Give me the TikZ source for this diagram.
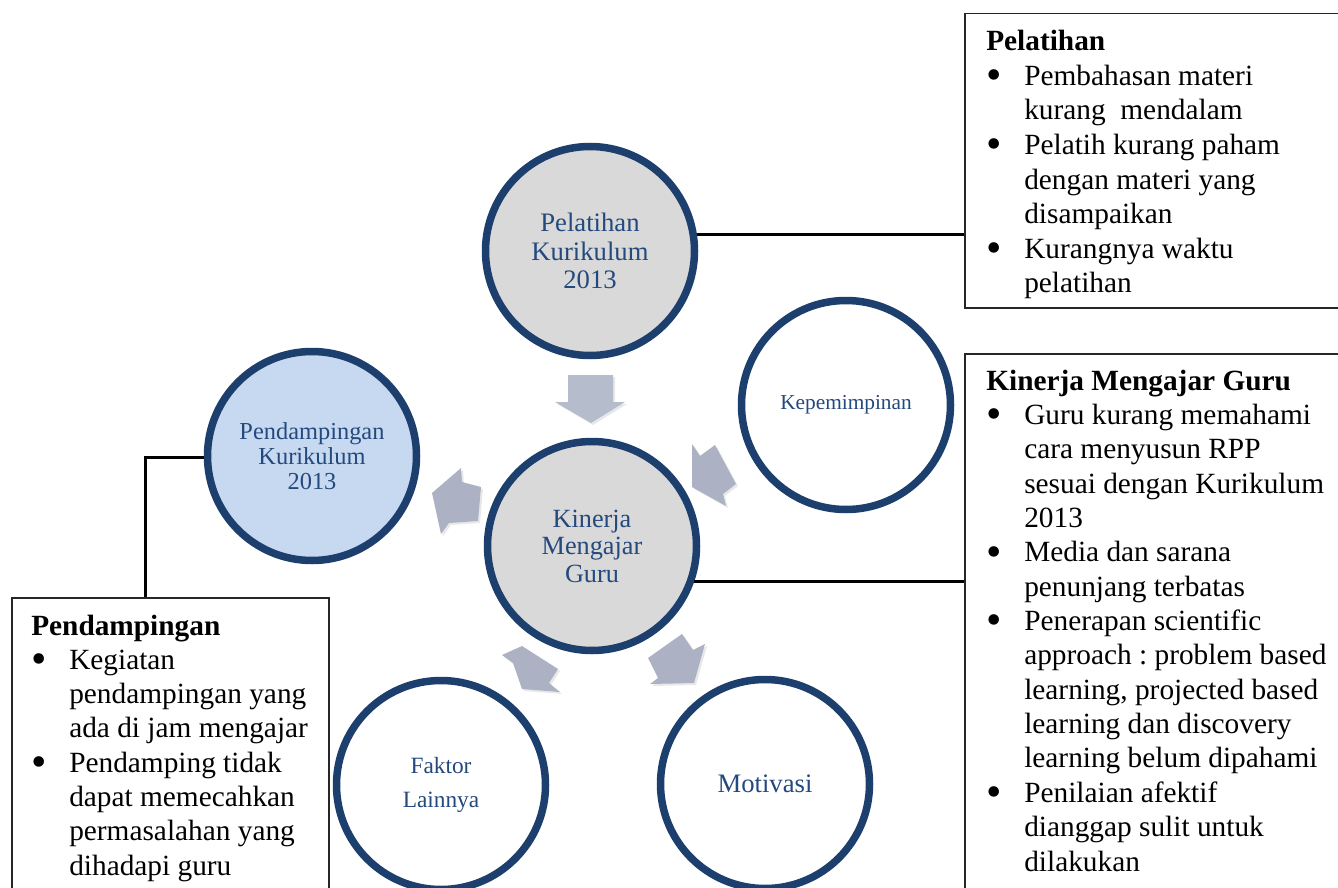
\documentclass[tikz,border=0pt]{standalone}
\usepackage{fontspec}
\setmainfont{Liberation Serif}
\usetikzlibrary{shadows}
\frenchspacing
\newdimen\pxu \pxu=0.75pt
\definecolor{ringc}{HTML}{1D3F6E}
\definecolor{txtc}{HTML}{24497D}
\definecolor{greyf}{HTML}{D9D9D9}
\definecolor{bluef}{HTML}{C6D9F1}
\definecolor{arrc}{HTML}{ACB2C3}
\definecolor{arrtop}{HTML}{B5BCCC}
\newcommand\bigdot{\raisebox{-3.3pt}{\scalebox{1.5}{\textbullet}}}
\tikzset{
 ring/.style={circle, draw=ringc, line width=7.5\pxu, minimum size=209\pxu, inner sep=0pt, text=txtc, align=center},
 blk/.style={fill=arrc, draw=none, drop shadow={opacity=0.18, shadow xshift=1.5pt, shadow yshift=-1.5pt}},
 panel/.style={draw=black!85, line width=1.5\pxu, anchor=north west, inner sep=0pt},
 link/.style={draw=black, line width=3\pxu},
 hdl/.style={anchor=base west, inner sep=0pt, font=\fontsize{22}{24}\selectfont\bfseries},
 bul/.style={anchor=base west, inner sep=0pt, xshift=0\pxu, font=\fontsize{22}{24}\selectfont, execute at begin node={\makebox[38\pxu][l]{\bigdot}}},
 cnt/.style={anchor=base west, inner sep=0pt, xshift=38\pxu, font=\fontsize{22}{24}\selectfont},
}
\begin{document}
\begin{tikzpicture}[x=0.75pt, y=-0.75pt]
\useasboundingbox (0,0) rectangle (1338,888);
\clip (0,0) rectangle (1338,888);
% block arrows
\fill[blk, fill=arrtop] (568,375) -- (613,375) -- (613,402) -- (625,402) -- (591,423) -- (555,402) -- (568,402) -- cycle;
\fill[blk] (692,444) -- (700,456) -- (715,445) -- (736,484) -- (723,494) -- (726,506) -- (692,487) -- cycle;
\fill[blk] (461,468) -- (462,482) -- (481,487) -- (478,521) -- (449,523) -- (441,534) -- (432,493) -- cycle;
\fill[blk] (522,646) -- (558,669) -- (549,683) -- (560,692) -- (522,689) -- (513,663) -- (502,655) -- cycle;
\fill[blk] (682,634) -- (693,650) -- (705,644) -- (694,683) -- (650,684) -- (658,678) -- (648,658) -- cycle;
% circles
\node[ring, fill=greyf, font=\fontsize{20}{21.2}\selectfont] (ptop) at (590,251) {Pelatihan\\Kurikulum\\2013};
\node[ring, fill=greyf, font=\fontsize{19.7}{20.6}\selectfont] (kin) at (592,546) {Kinerja\\Mengajar\\Guru};
\node[ring, fill=white, font=\fontsize{16}{18}\selectfont] (kep) at (846,405) {Kepemimpinan};
\node[ring, fill=bluef, font=\fontsize{18.3}{18.75}\selectfont] (pend) at (312,456) {Pendampingan\\Kurikulum\\2013};
\node[ring, fill=white, font=\fontsize{17.5}{25.5}\selectfont] (fak) at (441,785) {Faktor\\Lainnya};
\node[ring, fill=white, font=\fontsize{20}{20}\selectfont] (mot) at (765,784) {Motivasi};
% panels
\node[panel, minimum width=400\pxu, minimum height=294\pxu] (pelbox) at (964,13) {};
\node[panel, minimum width=400\pxu, minimum height=560\pxu] (kinbox) at (964,353) {};
\node[panel, minimum width=317\pxu, minimum height=320\pxu] (pdbox) at (11,597) {};
% connectors
\draw[link] (ptop.9) -- (ptop.9 -| pelbox.west);
\draw[link] (kin.-19) -- (kin.-19 -| kinbox.west);
\coordinate (pdtop) at (145,597);
\draw[link] (pend.181) -| (pdtop);
% panel texts
\foreach \k/\t [count=\i from 0] in {hdl/Pelatihan, bul/Pembahasan materi, cnt/kurang\ \ mendalam, bul/Pelatih kurang paham, cnt/dengan materi yang, cnt/disampaikan, bul/Kurangnya waktu, cnt/pelatihan}
  \node[\k] (pl\i) at (986, 50.7+34.6*\i) {\t};
\foreach \k/\t [count=\i from 0] in {hdl/Kinerja Mengajar Guru, bul/Guru kurang memahami, cnt/cara menyusun RPP, cnt/sesuai dengan Kurikulum, cnt/2013, bul/Media dan sarana, cnt/penunjang terbatas, bul/Penerapan scientific, cnt/approach : problem based, cnt/{learning, projected based}, cnt/learning dan discovery, cnt/learning belum dipahami, bul/Penilaian afektif, cnt/dianggap sulit untuk, cnt/dilakukan}
  \node[\k] (kl\i) at (986, 390+34.36*\i) {\t};
\foreach \k/\t [count=\i from 0] in {hdl/Pendampingan, bul/Kegiatan, cnt/pendampingan yang, cnt/ada di jam mengajar, bul/Pendamping tidak, cnt/dapat memecahkan, cnt/permasalahan yang, cnt/dihadapi guru}
  \node[\k] (dl\i) at (31, 635+34.3*\i) {\t};
\end{tikzpicture}
\end{document}
